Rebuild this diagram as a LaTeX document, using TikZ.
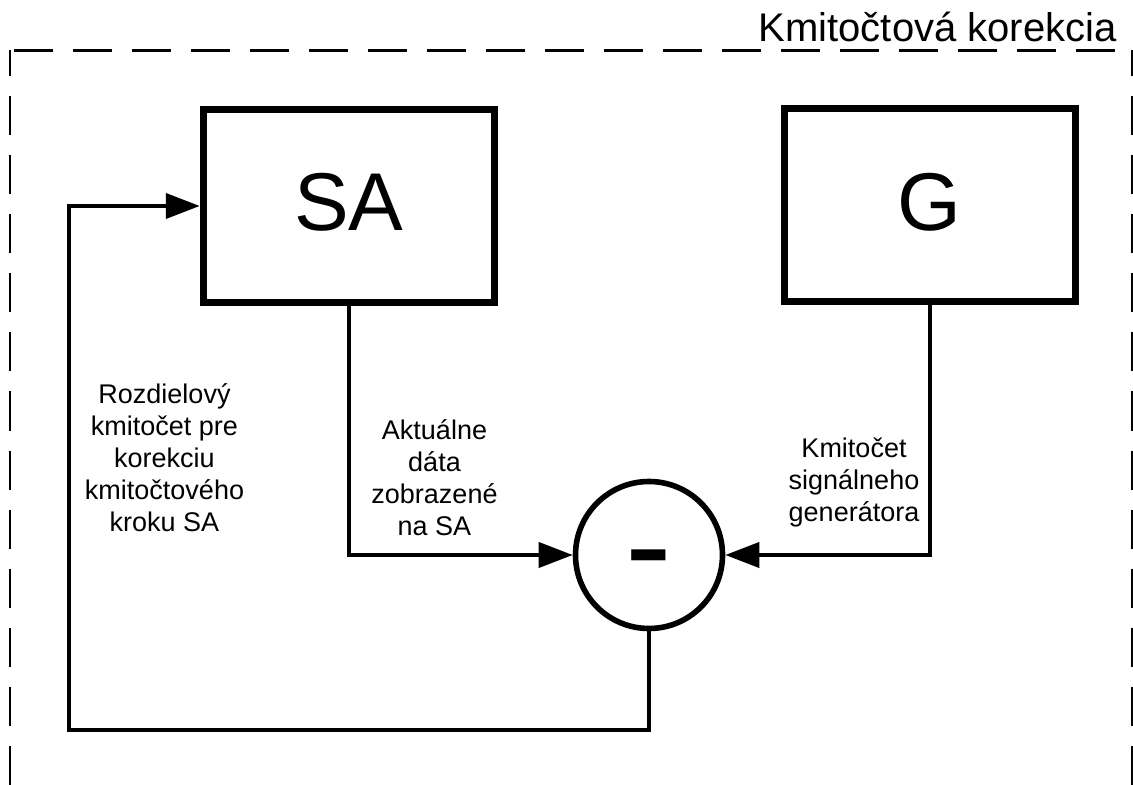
\documentclass[tikz,border=0pt]{standalone}
\usepackage{fontspec}
\setmainfont{Liberation Sans}
\usetikzlibrary{arrows.meta, positioning, calc}

\begin{document}
\begin{tikzpicture}[
    x=0.5pt, y=-0.5pt,
    block/.style={rectangle, draw=black, line width=3.5pt, minimum width=145.5pt, minimum height=96.5pt, inner sep=0pt, text height=29.5pt, text depth=4.5pt, font=\fontsize{41}{41}\selectfont},
    sumnode/.style={circle, draw=black, line width=2.8pt, minimum size=73.5pt, inner sep=0pt, font=\fontsize{70}{70}\selectfont, text height=37pt, text depth=0pt},
    lbl/.style={align=center, inner sep=0pt, font=\fontsize{13.5}{16}\selectfont},
    arrow/.style={-{Triangle[length=17pt, width=12.5pt]}, line width=2pt, color=black},
    frame/.style={line width=1.2pt, dash pattern=on 19.5pt off 10pt}
]
\useasboundingbox (0,0) rectangle (1133,785);

% Dashed frame
\draw[frame, dash phase=27.5pt] (10,50.5) -- (1132,50.5);
\draw[frame, dash phase=6.5pt] (10,50.5) -- (10,785);
\draw[frame, dash phase=6.5pt] (1132,50.5) -- (1132,785);
\node[anchor=base east, inner sep=0pt, font=\fontsize{20}{20}\selectfont] (title) at (1117,42) {Kmitočtová korekcia};

% Blocks
\node[block] (sa) at (348.75,206) {SA};
\node[block] (gen) at (929.75,205.5) {G};
\node[sumnode] (diff) at (649,555) {-};

% Signals into the difference
\draw[arrow] (sa.south) |- (diff.west);
\draw[arrow] (gen.south) |- (diff.east);

% Feedback
\coordinate (fbcorner) at (69,730);
\draw[arrow] (diff.south) |- (fbcorner) |- (sa.west);

% Labels
\node[lbl] (fblabel) at (164.5,458) {Rozdielový\\kmitočet pre\\korekciu\\kmitočtového\\kroku SA};
\node[lbl] (salabel) at (434.5,478) {Aktuálne\\dáta\\zobrazené\\na SA};
\node[lbl] (genlabel) at (854,482) {Kmitočet\\signálneho\\generátora};

\end{tikzpicture}
\end{document}
